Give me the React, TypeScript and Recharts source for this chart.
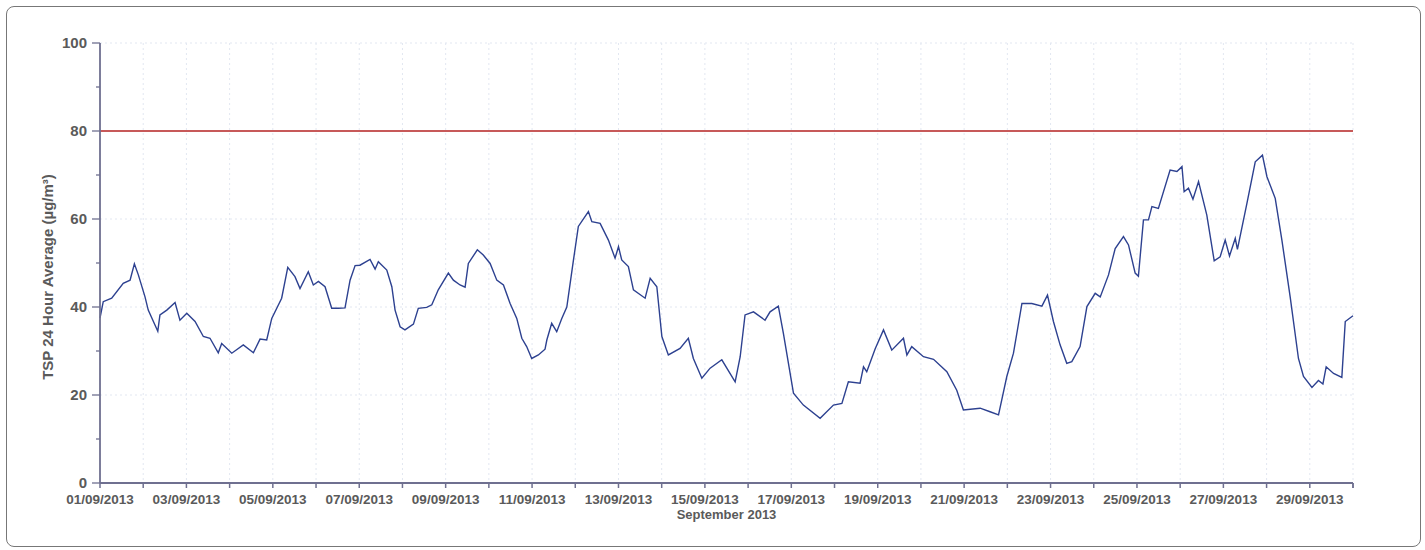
import React from 'react'
import { LineChart, Line, XAxis, YAxis, CartesianGrid, ReferenceLine, Label } from 'recharts'

// hours since 01/09/2013 00:00
const HOURS = [
  0, 1.8, 6.5, 12.9, 16.7, 19.1, 21.3, 25, 26.8, 32.1, 33.3, 37.1, 41.7, 44.4, 48.2, 52.8, 57.4, 61.1,
  65.7, 67.6, 73.2, 79.6, 85.2, 88.9, 92.6, 95.4, 100.9, 104.3, 108.3, 111.1, 115.7, 118.5, 121.3, 125,
  128.7, 132.4, 136.1, 138.9, 141.7, 144.4, 150, 152.8, 154.6, 159.3, 162.1, 163.9, 166.7, 169.4, 174.1,
  176.8, 181.5, 184.3, 187.9, 193.5, 196.3, 200, 202.8, 204.6, 209.6, 212.9, 216.7, 220.4, 224.1, 227.8,
  231.5, 234.3, 237, 239.8, 243.5, 247.2, 248.2, 250.9, 253.7, 256.5, 259.3, 263, 265.7, 271.3, 273.2,
  277.8, 282.4, 286.1, 288, 289.8, 293.5, 296.3, 302.8, 305.6, 309.3, 312.1, 315.7, 322.2, 326.8, 329.6,
  334.3, 338.9, 345.4, 352.8, 355.6, 358.3, 363, 369.4, 372.2, 376.8, 379.6, 385.2, 390.7, 400, 407.4,
  412.1, 415.7, 422.2, 424.1, 425.9, 430.6, 435.2, 439.8, 446.3, 448.2, 450.9, 457.4, 463, 470.4, 475.9,
  479.6, 488.9, 494.4, 499.1, 503.7, 507.4, 512.1, 517.6, 523.2, 526.3, 529.6, 533.3, 537, 539.8, 544.4,
  548.2, 552.8, 555.6, 560.2, 563.9, 568.5, 571.3, 575, 576.8, 579.6, 582.4, 584.3, 587.9, 594.4, 598.2,
  601, 602.2, 604.6, 607.1, 610.2, 614.8, 618.9, 622.2, 625, 627.4, 630.6, 631.8, 637.1, 641.7, 645.7,
  648.2, 652.8, 656.5, 661.1, 665.7, 668.5, 673.2, 676.8, 679.3, 681.1, 685.2, 689.8, 691.7, 696,
]

const TSP = [
  37.5, 41.2, 42, 45.4, 46.1, 49.8, 47.3, 42.3, 39.3, 34.5, 38.2, 39.3, 41, 37, 38.6, 36.7, 33.3, 32.9,
  29.6, 31.7, 29.5, 31.4, 29.6, 32.7, 32.5, 37.4, 42, 49, 46.9, 44.2, 48, 45, 45.8, 44.6,
  39.7, 39.7, 39.8, 46.1, 49.4, 49.5, 50.8, 48.6, 50.3, 48.4, 44.6, 39.3, 35.5, 34.8, 36.1,
  39.7, 39.9, 40.5, 43.9, 47.7, 46.1, 45, 44.5, 49.9, 53, 51.8, 49.9, 46.1, 45, 40.8,
  37.4, 32.9, 31, 28.3, 29.1, 30.4, 32.5, 36.3, 34.4, 37.4, 40, 50.7, 58.3, 61.7, 59.4,
  59, 55.2, 51.1, 53.7, 50.7, 49.2, 43.9, 42, 46.5, 44.6, 33.3, 29.1, 30.6, 32.9, 28.3,
  23.8, 26.1, 28, 23, 28.7, 38.2, 38.9, 37, 38.9, 40.2, 34, 20.4, 17.7, 14.7, 17.7,
  18.1, 23, 22.7, 26.4, 25.3, 30.5, 34.8, 30.2, 32.9, 29.1, 31, 28.7, 28.1, 25.3, 21.1,
  16.6, 17, 16.2, 15.5, 24.2, 29.5, 40.8, 40.8, 40.2, 42.7, 36.7, 31.4, 27.2, 27.6, 31,
  40.1, 43.1, 42.3, 47.3, 53.3, 56, 54.1, 47.7, 47, 59.8, 59.8, 62.8, 62.4, 71.1, 70.8,
  71.9, 66.2, 67, 64.5, 68.5, 60.9, 50.5, 51.4, 55.2, 51.6, 55.6, 53.1, 63.6, 73, 74.5,
  69.6, 64.7, 55.2, 42.3, 28.3, 24.2, 21.7, 23.3, 22.5, 26.4, 24.9, 24, 36.7, 38,
]

const DAY_TICKS = Array.from({ length: 30 }, (_, i) => i * 24)
const X_LABELS = [
  '01/09/2013', '03/09/2013', '05/09/2013', '07/09/2013', '09/09/2013', '11/09/2013', '13/09/2013',
  '15/09/2013', '17/09/2013', '19/09/2013', '21/09/2013', '23/09/2013', '25/09/2013', '27/09/2013',
  '29/09/2013',
]
const Y_TICKS = [0, 10, 20, 30, 40, 50, 60, 70, 80, 90, 100]
const GRID_Y = [20, 40, 60, 100]
const LIMIT = 80

const data = HOURS.map((h, i) => ({ h, v: TSP[i] }))

const AXIS = '#6f7090'
const TEXT = '#5a5a5a'
const FONT = '"Liberation Sans", Arial, sans-serif'

function XTick({ x, y, payload }: any) {
  const day = Math.round(payload.value / 24)
  const label = day % 2 === 0 ? X_LABELS[day / 2] : null
  return (
    <g>
      <line x1={x} x2={x} y1={y} y2={y + 5} stroke={AXIS} strokeWidth={1.5} />
      {label && (
        <text x={x} y={y + 21} textAnchor="middle" fill={TEXT} fontSize={13.5} fontWeight="bold" fontFamily={FONT}>
          {label}
        </text>
      )}
    </g>
  )
}

function YTick({ x, y, payload }: any) {
  const major = payload.value % 20 === 0
  return (
    <g>
      <line x1={x - (major ? 8 : 4)} x2={x} y1={y} y2={y} stroke={AXIS} strokeWidth={1.3} />
      {major && (
        <text x={x - 13} y={y + 5} textAnchor="end" fill={TEXT} fontSize={15} fontWeight="bold" fontFamily={FONT}>
          {payload.value}
        </text>
      )}
    </g>
  )
}

export default function App() {
  return (
    <div
      style={{
        position: 'absolute',
        left: 6,
        top: 6,
        width: 1415,
        height: 541,
        border: '1px solid #777',
        borderRadius: 8,
        boxSizing: 'border-box',
        background: '#fff',
      }}
    >
      <LineChart width={1413} height={539} data={data} margin={{ top: 36, right: 67, bottom: 0, left: 0 }}>
        <CartesianGrid
          stroke="#e2e7f1"
          strokeDasharray="2 3"
          horizontalValues={GRID_Y}
          verticalValues={DAY_TICKS}
        />
        <XAxis
          type="number"
          dataKey="h"
          domain={[0, 696]}
          ticks={[...DAY_TICKS, 696]}
          interval={0}
          height={63}
          tickSize={0}
          tickMargin={0}
          tickLine={false}
          axisLine={{ stroke: AXIS, strokeWidth: 1.8 }}
          tick={<XTick />}
        >
          <Label
            content={({ viewBox }: any) => (
              <text
                x={viewBox.x + viewBox.width / 2}
                y={viewBox.y + 36}
                textAnchor="middle"
                fill={TEXT}
                fontSize={13}
                fontWeight="bold"
                fontFamily={FONT}
              >
                September 2013
              </text>
            )}
          />
        </XAxis>
        <YAxis
          type="number"
          domain={[0, 100]}
          ticks={Y_TICKS}
          interval={0}
          width={93}
          tickSize={0}
          tickMargin={0}
          tickLine={false}
          axisLine={{ stroke: AXIS, strokeWidth: 1.8 }}
          tick={<YTick />}
        >
          <Label
            content={({ viewBox }: any) => {
              const cx = viewBox.x + 40
              const cy = viewBox.y + viewBox.height / 2 + 14
              return (
                <text
                  x={cx}
                  y={cy}
                  transform={`rotate(-90 ${cx} ${cy})`}
                  textAnchor="middle"
                  dominantBaseline="central"
                  fill={TEXT}
                  fontSize={15}
                  fontWeight="bold"
                  fontFamily={FONT}
                >
                  TSP 24 Hour Average (µg/m³)
                </text>
              )
            }}
          />
        </YAxis>
        <ReferenceLine y={LIMIT} stroke="#b52222" strokeWidth={1.6} />
        <Line
          type="linear"
          dataKey="v"
          stroke="#2d4190"
          strokeWidth={1.4}
          dot={false}
          isAnimationActive={false}
        />
      </LineChart>
    </div>
  )
}
